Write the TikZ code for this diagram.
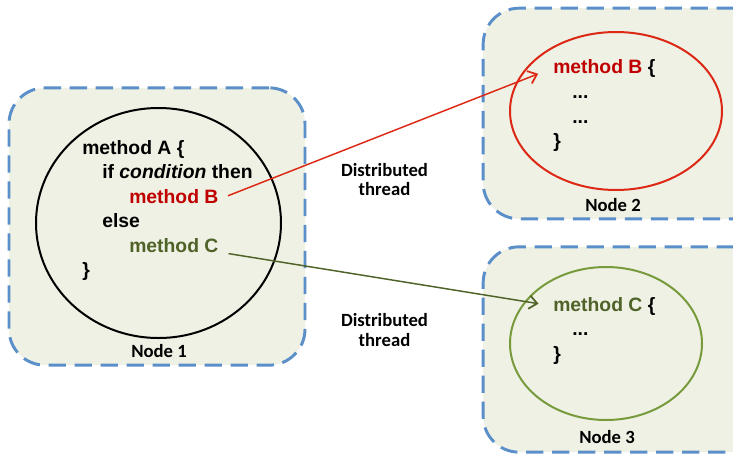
\documentclass[tikz,border=0pt]{standalone}
\usepackage{fontspec}
\setmainfont{Liberation Sans}
\newfontfamily\calibri{Carlito}
\usepackage{color}
\definecolor{boxblue}{RGB}{91,143,201}
\definecolor{boxfill}{RGB}{238,241,228}
\definecolor{methodred}{RGB}{192,0,0}
\definecolor{linered}{RGB}{220,40,20}
\definecolor{methodgreen}{RGB}{79,98,40}
\definecolor{ellgreen}{RGB}{119,155,60}
\usepackage{tikz}
\usetikzlibrary{shapes.geometric,arrows.meta,positioning}
\tikzstyle{machine}=[draw=boxblue,fill=boxfill,line width=2.2pt,dash pattern=on 13pt off 6.5pt,rounded corners=27pt,inner sep=0pt]
\tikzstyle{region}=[ellipse,draw,line width=1.5pt,inner sep=0pt]
\tikzstyle{code}=[anchor=base west,inner sep=0pt,font=\fontsize{14.5}{17}\selectfont\bfseries]
\tikzstyle{machinelabel}=[inner sep=0pt,font=\calibri\bfseries\fontsize{14}{14.5}\selectfont]
\tikzstyle{call}=[line width=1.1pt,-{Straight Barb[length=6pt,width=10pt,line width=1.3pt]}]

\begin{document}
\begin{tikzpicture}[x=0.75pt,y=-0.75pt]
\clip (0,0) rectangle (733,455);
\node [machine,minimum width=222pt,minimum height=208pt] (n1) at (157,226.5) {};
\node [machine,minimum width=215pt,minimum height=158pt] (n2) at (626.5,113.5) {};
\node [machine,minimum width=215pt,minimum height=154pt] (n3) at (626.5,349.5) {};
\node [region,minimum width=183.75pt,minimum height=172.5pt] (e1) at (158.5,223) {};
\node [region,draw=linered,minimum width=159pt,minimum height=118.5pt] (e2) at (616,111) {};
\node [region,draw=ellgreen,minimum width=144pt,minimum height=114.75pt] (e3) at (606,343.5) {};
\node [code] (a1) at (82,154) {method A \{};
\node [code] (a2) at (102,178.5) {if \textit{condition} then};
\node [code,text=methodred] (a3) at (129,203) {method B};
\node [code] (a4) at (102,227.5) {else};
\node [code,text=methodgreen] (a5) at (129,252) {method C};
\node [code] (a6) at (82,276) {\}};
\node [code] (b1) at (553,73) {\textcolor{methodred}{method B} \{};
\node [code] (b2) at (572,98) {...};
\node [code] (b3) at (572,123) {...};
\node [code] (b4) at (553,147) {\}};
\node [code] (c1) at (553,311) {\textcolor{methodgreen}{method C} \{};
\node [code] (c2) at (572,335) {...};
\node [code] (c3) at (553,360) {\}};
\node [machinelabel,anchor=base] (l1) at (159,357) {Node 1};
\node [machinelabel,anchor=base] (l2) at (613,211) {Node 2};
\node [machinelabel,anchor=base] (l3) at (607,443) {Node 3};
\node [machinelabel,align=center] (t1) at (384.5,179.5) {Distributed\\thread};
\node [machinelabel,align=center] (t2) at (384.5,330) {Distributed\\thread};
\draw [call,draw=linered,shorten <=7.5pt,shorten >=12pt] ([yshift=-2.5pt]a3.east) -- (b1.west);
\draw [call,draw=methodgreen,shorten <=7.5pt,shorten >=11pt] (a5.base east) -- (c1.west);
\end{tikzpicture}
\end{document}
